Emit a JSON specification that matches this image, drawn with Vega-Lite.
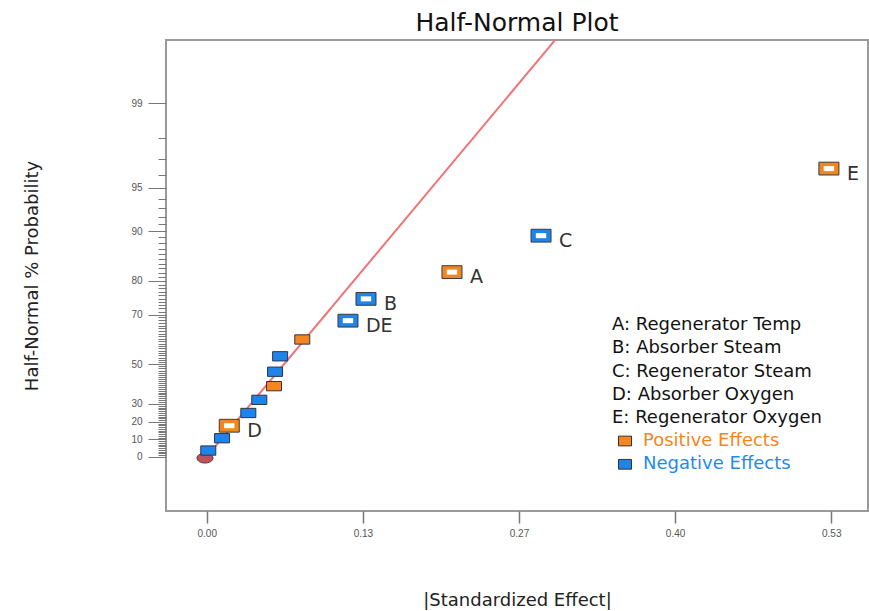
{
  "$schema": "https://vega.github.io/schema/vega-lite/v6.json",
  "width": 702,
  "height": 471,
  "autosize": {"type": "none"},
  "padding": {"left": 166, "top": 40, "right": 1, "bottom": 100},
  "background": "white",
  "config": {
    "view": {"stroke": "#9a9a9a", "strokeWidth": 2},
    "font": "DejaVu Sans"
  },
  "title": {
    "text": "Half-Normal Plot",
    "font": "DejaVu Sans",
    "fontSize": 25,
    "fontWeight": "normal",
    "color": "#111111",
    "anchor": "middle",
    "offset": 4
  },
  "datasets": {
    "effects": [
      {"effect": 0.0013, "z": 0.04479, "sign": "Negative Effects", "label": ""},
      {"effect": 0.0130, "z": 0.13468, "sign": "Negative Effects", "label": ""},
      {"effect": 0.0191, "z": 0.22570, "sign": "Positive Effects", "label": "D"},
      {"effect": 0.0353, "z": 0.31864, "sign": "Negative Effects", "label": ""},
      {"effect": 0.0446, "z": 0.41441, "sign": "Negative Effects", "label": ""},
      {"effect": 0.0571, "z": 0.51415, "sign": "Positive Effects", "label": ""},
      {"effect": 0.0580, "z": 0.61929, "sign": "Negative Effects", "label": ""},
      {"effect": 0.0623, "z": 0.73177, "sign": "Negative Effects", "label": ""},
      {"effect": 0.0811, "z": 0.85437, "sign": "Positive Effects", "label": ""},
      {"effect": 0.1199, "z": 0.99153, "sign": "Negative Effects", "label": "DE"},
      {"effect": 0.1352, "z": 1.15035, "sign": "Negative Effects", "label": "B"},
      {"effect": 0.2082, "z": 1.34516, "sign": "Positive Effects", "label": "A"},
      {"effect": 0.2838, "z": 1.61101, "sign": "Negative Effects", "label": "C"},
      {"effect": 0.5282, "z": 2.10000, "sign": "Positive Effects", "label": "E"}
    ],
    "fitline": [
      {"effect": 0, "z": 0},
      {"effect": 0.3, "z": 3.081}
    ],
    "origin": [
      {"effect": -0.0015, "z": -0.01}
    ],
    "factors": [
      {"factor": "A: Regenerator Temp"},
      {"factor": "B: Absorber Steam"},
      {"factor": "C: Regenerator Steam"},
      {"factor": "D: Absorber Oxygen"},
      {"factor": "E: Regenerator Oxygen"}
    ]
  },
  "encoding": {
    "x": {
      "field": "effect",
      "type": "quantitative",
      "scale": {"domain": [-0.0346, 0.5614], "nice": false, "zero": false},
      "axis": {
        "values": [0, 0.1326, 0.2651, 0.3976, 0.5302],
        "format": ".2f",
        "grid": false,
        "domain": false,
        "tickSize": 12,
        "tickColor": "#777777",
        "tickWidth": 1.5,
        "labelFont": "Liberation Sans Narrow, Liberation Sans",
        "labelFontSize": 10,
        "labelColor": "#555555",
        "labelPadding": 5,
        "title": "|Standardized Effect|",
        "titleFont": "DejaVu Sans",
        "titleFontSize": 18,
        "titleFontWeight": "normal",
        "titleColor": "#222222",
        "titleBaseline": "middle",
        "titleY": 89
      }
    },
    "y": {
      "field": "z",
      "type": "quantitative",
      "scale": {"domain": [-0.3958, 3.0372], "nice": false, "zero": false},
      "axis": {
        "values": [0, 0.01253, 0.02507, 0.0376, 0.05015, 0.06271, 0.07527, 0.08784, 0.10043, 0.11304, 0.12566, 0.1383, 0.15097, 0.16366, 0.17637, 0.18912, 0.20189, 0.2147, 0.22754, 0.24043, 0.25335, 0.26631, 0.27932, 0.29237, 0.30548, 0.31864, 0.33185, 0.34513, 0.35846, 0.37186, 0.38532, 0.39886, 0.41246, 0.42615, 0.43991, 0.45376, 0.4677, 0.48173, 0.49585, 0.51007, 0.5244, 0.53884, 0.55338, 0.56805, 0.58284, 0.59776, 0.61281, 0.62801, 0.64335, 0.65884, 0.67449, 0.69031, 0.7063, 0.72247, 0.73885, 0.75542, 0.77219, 0.78919, 0.80642, 0.82389, 0.84162, 0.85961, 0.8779, 0.89647, 0.91537, 0.93459, 0.95417, 0.97411, 0.99446, 1.01522, 1.03643, 1.05812, 1.08032, 1.10306, 1.12639, 1.15035, 1.17499, 1.20036, 1.22653, 1.25357, 1.28155, 1.31058, 1.34076, 1.3722, 1.40507, 1.43953, 1.47579, 1.5141, 1.55477, 1.59819, 1.64485, 1.6954, 1.75069, 1.81191, 1.88079, 1.95996, 2.05375, 2.17009, 2.32635, 2.57583],
        "labelExpr": "['0','10','20','30','50','70','80','90','95','99'][indexof([0,0.12566,0.25335,0.38532,0.67449,1.03643,1.28155,1.64485,1.95996,2.57583], datum.value)] || ''",
        "tickSize": {"condition": {"test": "indexof([0,0.12566,0.25335,0.38532,0.67449,1.03643,1.28155,1.64485,1.95996,2.57583], datum.value) >= 0", "value": 18}, "value": 8},
        "grid": false,
        "domain": false,
        "tickColor": "#777777",
        "tickWidth": 1,
        "labelFont": "Liberation Sans Narrow, Liberation Sans",
        "labelFontSize": 10,
        "labelColor": "#555555",
        "labelPadding": 6,
        "labelOverlap": false,
        "labelBound": false,
        "title": "Half-Normal % Probability",
        "titleFont": "DejaVu Sans",
        "titleFontSize": 18,
        "titleFontWeight": "normal",
        "titleColor": "#222222",
        "titleBaseline": "middle",
        "titleX": -134,
        "titleY": 235.5
      }
    }
  },
  "layer": [
    {
      "data": {"name": "fitline"},
      "mark": {"type": "line", "color": "#f07474", "strokeWidth": 2, "clip": true},
      "encoding": {}
    },
    {
      "data": {"name": "factors"},
      "mark": {"type": "point", "opacity": 0},
      "encoding": {
        "shape": {
          "field": "factor",
          "type": "nominal",
          "sort": null,
          "scale": {"domain": ["A: Regenerator Temp", "B: Absorber Steam", "C: Regenerator Steam", "D: Absorber Oxygen", "E: Regenerator Oxygen"]},
          "legend": {
            "orient": "none",
            "legendX": 428,
            "legendY": 276,
            "title": null,
            "padding": 0,
            "rowPadding": 5.3,
            "labelFont": "DejaVu Sans",
            "labelFontSize": 18,
            "labelColor": "#111111",
            "labelLimit": 0,
            "labelOffset": 0,
            "symbolSize": 0,
            "symbolOpacity": 0,
            "symbolStrokeWidth": 0
          }
        }
      }
    },
    {
      "data": {"name": "origin"},
      "mark": {"type": "point", "filled": true, "shape": "M-1,0A1,0.62 0 1,0 1,0A1,0.62 0 1,0 -1,0Z", "size": 256, "fill": "#b9535c", "stroke": "#6a2a30", "strokeWidth": 1, "opacity": 1},
      "encoding": {}
    },
    {
      "data": {"name": "effects"},
      "transform": [{"filter": "datum.label == ''"}],
      "mark": {"type": "point", "filled": true, "shape": "M-1,-0.62H1V0.62H-1Z", "size": 225, "stroke": "#2e3440", "strokeWidth": 1, "opacity": 1},
      "encoding": {
        "color": {
          "field": "sign",
          "type": "nominal",
          "scale": {
            "domain": ["Positive Effects", "Negative Effects"],
            "range": ["#f5861f", "#1f83ee"]
          },
          "legend": {
            "orient": "none",
            "legendX": 450,
            "legendY": 392,
            "title": null,
            "padding": 0,
            "rowPadding": 5.3,
            "labelFont": "DejaVu Sans",
            "labelFontSize": 18,
            "labelLimit": 0,
            "labelOffset": 9,
            "labelColor": {"expr": "datum.value == 'Positive Effects' ? '#f5861f' : '#1f8af0'"},
            "symbolType": "M-1,-0.75H1V0.75H-1Z",
            "symbolSize": 169,
            "symbolStrokeColor": "#333333",
            "symbolStrokeWidth": 1
          }
        }
      }
    },
    {
      "data": {"name": "effects"},
      "transform": [{"filter": "datum.label != ''"}],
      "mark": {"type": "point", "filled": true, "shape": "M-1,-0.64H1V0.64H-1Z", "size": 400, "stroke": "#3a3a3a", "strokeWidth": 1, "opacity": 1},
      "encoding": {
        "color": {"field": "sign", "type": "nominal", "legend": null}
      }
    },
    {
      "data": {"name": "effects"},
      "transform": [{"filter": "datum.label != ''"}],
      "mark": {"type": "point", "filled": true, "shape": "M-0.52,-0.25H0.52V0.25H-0.52Z", "size": 400, "color": "#ffffff", "strokeWidth": 0, "opacity": 1},
      "encoding": {}
    },
    {
      "data": {"name": "effects"},
      "transform": [{"filter": "datum.label != ''"}],
      "mark": {"type": "text", "align": "left", "baseline": "middle", "dx": 18, "dy": 5, "font": "DejaVu Sans", "fontSize": 19, "color": "#333333"},
      "encoding": {"text": {"field": "label"}}
    }
  ]
}
